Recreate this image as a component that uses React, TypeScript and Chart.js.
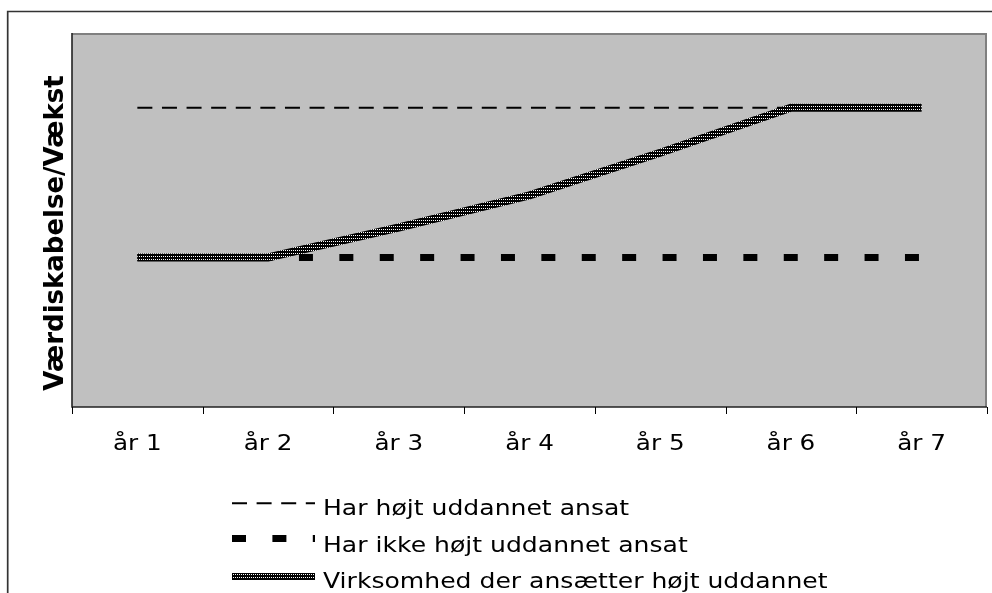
import React, { useEffect, useRef } from "react";
import { Chart, registerables } from "chart.js";

Chart.register(...registerables);

const categories = ["år 1", "år 2", "år 3", "år 4", "år 5", "år 6", "år 7"];
const seriesHigh = [4, 4, 4, 4, 4, 4, 4];
const seriesLow = [2, 2, 2, 2, 2, 2, 2];
const seriesFirm = [2, 2, 2.4, 2.83, 3.4, 4, 4];
const seriesNames = [
  "Har højt uddannet ansat",
  "Har ikke højt uddannet ansat",
  "Virksomhed der ansætter højt uddannet",
];
const yTitle = "Værdiskabelse/Vækst";
const yMin = 0;
const yMax = 5;

function makePattern(): CanvasPattern | string {
  const c = document.createElement("canvas");
  c.width = 2;
  c.height = 3;
  const g = c.getContext("2d");
  if (!g) return "#222";
  g.fillStyle = "#000";
  g.fillRect(0, 0, 2, 3);
  g.fillStyle = "#fff";
  g.fillRect(1, 1, 1, 1);
  return g.createPattern(c, "repeat") || "#222";
}

const decorPlugin = {
  id: "decor",
  beforeDraw(chart: any) {
    const { ctx, chartArea: a } = chart;
    ctx.save();
    ctx.fillStyle = "#ffffff";
    ctx.fillRect(0, 0, chart.width, chart.height);
    // outer frame
    ctx.strokeStyle = "#333333";
    ctx.lineWidth = 1.7;
    ctx.beginPath();
    ctx.moveTo(7.7, chart.height + 2);
    ctx.lineTo(7.7, 11.5);
    ctx.lineTo(chart.width + 2, 11.5);
    ctx.stroke();
    // plot area
    ctx.fillStyle = "#c0c0c0";
    ctx.fillRect(a.left, a.top, a.right - a.left, a.bottom - a.top);
    ctx.strokeStyle = "#808080";
    ctx.lineWidth = 2;
    ctx.beginPath();
    ctx.moveTo(a.left, a.top + 1);
    ctx.lineTo(a.right - 1, a.top + 1);
    ctx.lineTo(a.right - 1, a.bottom);
    ctx.stroke();
    ctx.strokeStyle = "#222222";
    ctx.lineWidth = 1.6;
    ctx.beginPath();
    ctx.moveTo(a.left, a.top);
    ctx.lineTo(a.left, a.bottom);
    ctx.lineTo(a.right, a.bottom);
    ctx.stroke();
    ctx.restore();
  },
  afterDraw(chart: any) {
    const { ctx, chartArea: a } = chart;
    const xs = chart.scales.x;
    ctx.save();
    // tick marks at category boundaries
    const step = xs.getPixelForValue(1) - xs.getPixelForValue(0);
    const x0 = xs.getPixelForValue(0) - step / 2;
    ctx.strokeStyle = "#000";
    ctx.lineWidth = 1;
    ctx.beginPath();
    for (let k = 0; k <= categories.length; k++) {
      const x = Math.round(x0 + k * step) + 0.5;
      ctx.moveTo(x, a.bottom);
      ctx.lineTo(x, a.bottom + 7);
    }
    ctx.stroke();
    // x labels
    ctx.fillStyle = "#000";
    ctx.font = '22px "DejaVu Sans"';
    ctx.textAlign = "center";
    ctx.textBaseline = "alphabetic";
    categories.forEach((c, i) => {
      ctx.save();
      ctx.translate(xs.getPixelForValue(i), 450);
      ctx.scale(1.12, 1);
      ctx.fillText(c, 0, 0);
      ctx.restore();
    });
    // y title
    ctx.save();
    ctx.translate(62.6, 233);
    ctx.rotate(-Math.PI / 2);
    ctx.font = 'bold 26px "DejaVu Sans"';
    ctx.textAlign = "center";
    ctx.textBaseline = "alphabetic";
    ctx.fillText(yTitle, 0, 0);
    ctx.restore();
    // legend
    const lineY = [503.3, 538.5, 576.5];
    const baseY = [515, 551.5, 588];
    [0, 1, 2].forEach((di, row) => {
      const ds = chart.data.datasets[di];
      ctx.save();
      ctx.strokeStyle = ds.borderColor;
      ctx.lineWidth = di === 2 ? 7 : ds.borderWidth;
      ctx.setLineDash(ds.borderDash || []);
      ctx.lineDashOffset = 0;
      ctx.lineCap = "butt";
      ctx.beginPath();
      ctx.moveTo(232, lineY[row]);
      ctx.lineTo(315, lineY[row]);
      ctx.stroke();
      ctx.restore();
      ctx.save();
      ctx.translate(323, baseY[row]);
      ctx.scale(1.14, 1);
      ctx.font = '22px "DejaVu Sans"';
      ctx.fillStyle = "#000";
      ctx.textAlign = "left";
      ctx.textBaseline = "alphabetic";
      ctx.fillText(ds.label, 0, 0);
      ctx.restore();
    });
    ctx.restore();
  },
};

export default function App() {
  const canvasRef = useRef<HTMLCanvasElement | null>(null);

  useEffect(() => {
    const canvas = canvasRef.current;
    if (!canvas) return;
    const pattern = makePattern();
    const chart = new Chart(canvas, {
      type: "line",
      data: {
        labels: categories,
        datasets: [
          {
            label: seriesNames[0],
            data: seriesHigh,
            borderColor: "#000000",
            borderWidth: 2,
            borderDash: [15, 9.6],
            pointRadius: 0,
            fill: false,
            tension: 0,
            order: 1,
          },
          {
            label: seriesNames[1],
            data: seriesLow,
            borderColor: "#000000",
            borderWidth: 7,
            borderDash: [14, 26.4],
            borderCapStyle: "butt",
            pointRadius: 0,
            fill: false,
            tension: 0,
            order: 2,
          },
          {
            label: seriesNames[2],
            data: seriesFirm,
            borderColor: pattern as any,
            borderWidth: 8,
            borderCapStyle: "butt",
            borderJoinStyle: "miter",
            pointRadius: 0,
            fill: false,
            tension: 0,
            order: 0,
          },
        ],
      },
      options: {
        responsive: false,
        animation: false,
        events: [],
        layout: { padding: { left: 72, top: 33, right: 5, bottom: 186 } },
        scales: {
          x: { display: false, offset: true },
          y: { display: false, min: yMin, max: yMax },
        },
        plugins: {
          legend: { display: false },
          tooltip: { enabled: false },
        },
      },
      plugins: [decorPlugin],
    });
    return () => chart.destroy();
  }, []);

  return (
    <div style={{ position: "fixed", left: 0, top: 0, width: 992, height: 593, overflow: "hidden", background: "#fff" }}>
      <canvas ref={canvasRef} width={992} height={593} style={{ width: 992, height: 593, display: "block" }} />
    </div>
  );
}
